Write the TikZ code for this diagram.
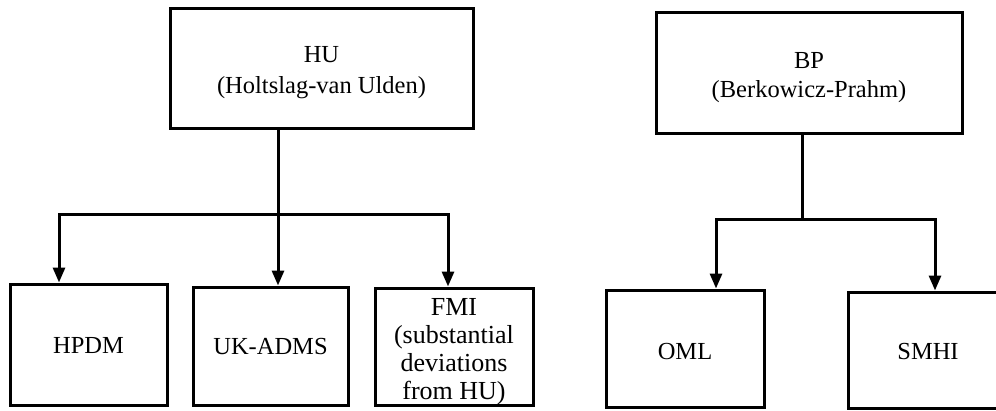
\documentclass[tikz,border=0pt]{standalone}
\usepackage{fontspec}
\setmainfont{Liberation Serif}
\usetikzlibrary{arrows.meta}
\begin{document}
\begin{tikzpicture}[x=1pt,y=-1pt,
  box/.style={draw,line width=3pt,rectangle,inner sep=0pt},
  txt/.style={inner sep=0pt,align=center,font=\fontsize{24.5}{31}\selectfont},
  conn/.style={line width=3pt},
  arr/.style={line width=3pt,-{Triangle[length=15pt,width=12pt]}}]
\useasboundingbox (0,0) rectangle (996,410);
\clip (0,0) rectangle (996,410);
\fill[white] (0,0) rectangle (996,410);
% top boxes
\node[box,minimum width=303pt,minimum height=120pt] (HU) at (321.5,68) {};
\node[txt] (HUt) at ([yshift=-5pt]HU.center) {HU\\(Holtslag-van Ulden)};
\node[box,minimum width=306pt,minimum height=121pt] (BP) at (809,72.5) {};
\node[txt,font=\fontsize{24.5}{29}\selectfont] (BPt) at ([yshift=-5pt]BP.center) {BP\\(Berkowicz-Prahm)};
% bottom boxes
\node[box,minimum width=157pt,minimum height=121pt] (HPDM) at (88.5,344.5) {};
\node[txt] (HPDMt) at ([yshift=-1pt]HPDM.center) {HPDM};
\node[box,minimum width=155pt,minimum height=118pt] (UKADMS) at (270.5,346) {};
\node[txt] (UKADMSt) at ([yshift=-1pt]UKADMS.center) {UK-ADMS};
\node[box,minimum width=158pt,minimum height=117pt] (FMI) at (454,346.5) {};
\node[txt,font=\fontsize{26}{28}\selectfont] (FMIt) at ([yshift=-5pt]FMI.center) {FMI\\(substantial\\deviations\\from HU)};
\node[box,minimum width=158pt,minimum height=117pt] (OML) at (685,348.5) {};
\node[txt] (OMLt) at ([yshift=-3pt]OML.center) {OML};
\node[box,minimum width=160pt,minimum height=116pt] (SMHI) at (928,350) {};
\node[txt] (SMHIt) at ([yshift=-2pt]SMHI.center) {SMHI};
% junctions
\coordinate (j1) at (278,214);
\coordinate (b1) at (59,214);
\coordinate (b3) at (448,214);
\coordinate (j2) at (802,219);
\coordinate (b4) at (716,219);
\coordinate (b5) at (935,219);
% connectors left
\draw[conn] (HU.south -| j1) -- (j1);
\draw[arr] (j1) -- (b1) -- (HPDM.north -| b1);
\draw[arr] (j1) -- (UKADMS.north -| j1);
\draw[arr] (j1) -- (b3) -- (FMI.north -| b3);
% connectors right
\draw[conn] (BP.south -| j2) -- (j2);
\draw[arr] (j2) -- (b4) -- (OML.north -| b4);
\draw[arr] (j2) -- (b5) -- (SMHI.north -| b5);
\end{tikzpicture}
\end{document}
